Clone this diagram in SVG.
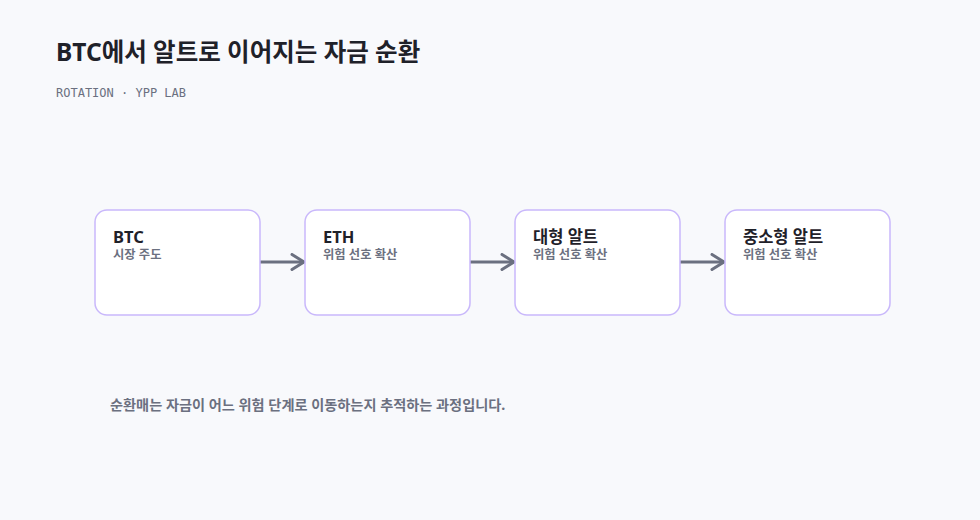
<svg xmlns="http://www.w3.org/2000/svg" width="980" height="520" viewBox="0 0 980 520">
<defs>
<style>
.t{font-family:"Noto Sans","Noto Sans CJK KR",sans-serif}
.box{fill:#ffffff;stroke:#c9b8fb;stroke-width:1.5}
.nt{font-size:16.5px;font-weight:700;fill:#1f2129}
.ns{font-size:12.3px;font-weight:700;fill:#6b7080}
.edge{stroke:#6b7080;stroke-width:3;fill:none;marker-end:url(#ah)}
</style>
<marker id="ah" viewBox="0 0 16 18" refX="14" refY="9" markerWidth="16" markerHeight="18" orient="auto" markerUnits="userSpaceOnUse">
<path d="M2,1.5 L14,9 L2,16.5" fill="none" stroke="#6b7080" stroke-width="3" stroke-linecap="round" stroke-linejoin="round"/>
</marker>
</defs>
<rect width="980" height="520" fill="#f8f9fc"/>
<text class="t" x="56" y="61" font-size="24.5" font-weight="700" fill="#1f2129">BTC에서 알트로 이어지는 자금 순환</text>
<text x="56" y="97" font-family="'DejaVu Sans Mono','Liberation Mono',monospace" font-size="12" fill="#6b7080">ROTATION · YPP LAB</text>
<g id="edges">
<line class="edge" x1="260" y1="262" x2="304" y2="262"/>
<line class="edge" x1="470" y1="262" x2="514" y2="262"/>
<line class="edge" x1="680" y1="262" x2="724" y2="262"/>
</g>
<g id="n1"><rect class="box" x="95" y="210" width="165" height="105" rx="12"/><text class="t nt" x="113" y="242.5">BTC</text><text class="t ns" x="113" y="259">시장 주도</text></g>
<g id="n2"><rect class="box" x="305" y="210" width="165" height="105" rx="12"/><text class="t nt" x="323" y="242.5">ETH</text><text class="t ns" x="323" y="259">위험 선호 확산</text></g>
<g id="n3"><rect class="box" x="515" y="210" width="165" height="105" rx="12"/><text class="t nt" x="533" y="242.5">대형 알트</text><text class="t ns" x="533" y="259">위험 선호 확산</text></g>
<g id="n4"><rect class="box" x="725" y="210" width="165" height="105" rx="12"/><text class="t nt" x="743" y="242.5">중소형 알트</text><text class="t ns" x="743" y="259">위험 선호 확산</text></g>
<text class="t" x="110" y="410" font-size="14.2" font-weight="700" fill="#6b7080">순환매는 자금이 어느 위험 단계로 이동하는지 추적하는 과정입니다.</text>
</svg>
